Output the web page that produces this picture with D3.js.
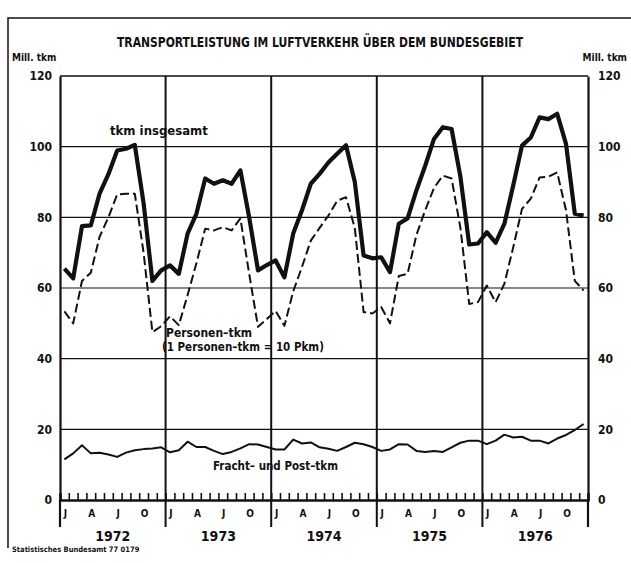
<!DOCTYPE html>
<html>
<head>
<meta charset="utf-8">
<script src="https://cdn.jsdelivr.net/npm/d3@7"></script>
<style>
  body { margin: 0; background: #fff; }
  svg text { font-family: "Liberation Sans Narrow", "DejaVu Sans Condensed", sans-serif; font-weight: bold; fill: #111; }
</style>
</head>
<body>
<div id="chart"></div>
<script>
const years = ['1972', '1973', '1974', '1975', '1976'];
const monthLabels = ['J', '', '', 'A', '', '', 'J', '', '', 'O', '', ''];
const yTicks = [0, 20, 40, 60, 80, 100, 120];

// Mill. tkm, monthly Jan 1972 .. Dec 1976
const tkmTotal = [
  65.5, 62.7, 77.5, 77.7, 86.7, 92.2, 98.9, 99.4, 100.5, 84, 62, 65,
  66.4, 64, 75.4, 81, 91, 89.5, 90.5, 89.5, 93.3, 80, 65, 66.5,
  67.8, 63, 75.4, 82, 89.5, 92.3, 95.5, 98, 100.4, 90, 69.2, 68.4,
  68.7, 64.5, 78.2, 79.7, 87.6, 94.6, 102.2, 105.5, 105, 91.5, 72.3, 72.6,
  75.8, 72.8, 78.2, 89, 100.3, 102.6, 108.3, 107.8, 109.3, 100.8, 81, 80.5
];
const personenTkm = [
  53.4, 50, 62, 64.3, 74.5, 80, 86.5, 86.7, 86.7, 70, 47.5, 49.2,
  52, 49.5, 58, 67, 76.8, 76.3, 77.2, 76.3, 79.7, 64, 49, 51.2,
  53.5, 49.3, 59, 66, 73.4, 77, 80.5, 84.7, 85.7, 77, 53.2, 52.8,
  54.6, 50, 63.4, 64, 75, 82, 88.3, 91.8, 91, 77, 55.5, 56,
  60.7, 56, 61.2, 71.5, 82.4, 85.3, 91.3, 91.5, 92.7, 82, 62, 59.3
];
const frachtTkm = [
  11.5, 13.2, 15.5, 13.2, 13.4, 12.9, 12.2, 13.4, 14.1, 14.4, 14.6, 14.9,
  13.5, 14.1, 16.5, 15, 15, 13.9, 13, 13.6, 14.6, 15.8, 15.7, 15,
  14.3, 14.3, 17.1, 16, 16.3, 14.9, 14.5, 13.9, 15, 16.2, 15.8, 15,
  13.9, 14.3, 15.8, 15.7, 13.9, 13.6, 13.9, 13.6, 14.9, 16.2, 16.8, 16.8,
  15.8, 16.8, 18.5, 17.7, 17.9, 16.8, 16.8, 16, 17.4, 18.4, 19.8, 21.5
];

const w = 631;
const h = 563;
const padL = 60, padR = 588, padT = 76, padB = 500;

const svg = d3.select('#chart').append('svg').attr('width', w).attr('height', h);

const x = d3.scaleLinear().domain([0, years.length * 12]).range([padL, padR]);
const y = d3.scaleLinear().domain([0, 120]).range([padB, padT]);

// page frame
svg.append('path').attr('d', 'M8,548 V18 H631').attr('fill', 'none').attr('stroke', '#111').attr('stroke-width', 1.5);

svg.append('text').attr('x', 117).attr('y', 47).attr('font-size', 14)
  .attr('textLength', 406).attr('lengthAdjust', 'spacingAndGlyphs')
  .text('TRANSPORTLEISTUNG IM LUFTVERKEHR ÜBER DEM BUNDESGEBIET');
svg.append('text').attr('x', 12).attr('y', 61).attr('font-size', 10).text('Mill. tkm');
svg.append('text').attr('x', 627).attr('y', 61).attr('text-anchor', 'end').attr('font-size', 10).text('Mill. tkm');

// horizontal grid
svg.append('g').selectAll('line').data(yTicks.slice(1, -1)).enter().append('line')
  .attr('x1', padL).attr('x2', padR).attr('y1', d => y(d)).attr('y2', d => y(d))
  .attr('stroke', '#111').attr('stroke-width', 1.2);
svg.append('line').attr('x1', padL).attr('x2', padR).attr('y1', padT).attr('y2', padT)
  .attr('stroke', '#111').attr('stroke-width', 1.5);

// y axes
const yLeft = d3.axisLeft(y).tickValues(yTicks).tickSize(0).tickPadding(8);
const yRight = d3.axisRight(y).tickValues(yTicks).tickSize(0).tickPadding(10);
const gl = svg.append('g').attr('transform', 'translate(' + padL + ',0)').call(yLeft);
const gr = svg.append('g').attr('transform', 'translate(' + padR + ',0)').call(yRight);
[gl, gr].forEach(g => {
  g.select('.domain').attr('stroke', '#111').attr('stroke-width', 2.2);
  g.selectAll('text').attr('font-size', 12).style('font-family', '"Liberation Sans Narrow", "DejaVu Sans Condensed", sans-serif').style('font-weight', 'bold');
});

// year separators
svg.append('g').selectAll('line').data(d3.range(1, years.length)).enter().append('line')
  .attr('x1', d => x(d * 12)).attr('x2', d => x(d * 12)).attr('y1', padT).attr('y2', 527)
  .attr('stroke', '#111').attr('stroke-width', 2);
svg.append('line').attr('x1', padL).attr('x2', padL).attr('y1', padB).attr('y2', 527).attr('stroke', '#111').attr('stroke-width', 2.2);
svg.append('line').attr('x1', padR).attr('x2', padR).attr('y1', padB).attr('y2', 527).attr('stroke', '#111').attr('stroke-width', 2.2);

// x axis with month ticks
const xAxis = d3.axisBottom(x).tickValues(d3.range(0, years.length * 12 + 1)).tickSize(-7).tickFormat('');
const gx = svg.append('g').attr('transform', 'translate(0,' + padB + ')').call(xAxis);
gx.select('.domain').attr('stroke', '#111').attr('stroke-width', 2.4);
gx.selectAll('.tick line').attr('stroke', '#111').attr('stroke-width', 1.6);

const months = d3.range(0, years.length * 12);
svg.append('g').selectAll('text').data(months.filter(i => monthLabels[i % 12])).enter().append('text')
  .attr('x', i => x(i + 0.5) + 1).attr('y', 517).attr('text-anchor', 'middle').attr('font-size', 10)
  .text(i => monthLabels[i % 12]);
svg.append('g').selectAll('text').data(years).enter().append('text')
  .attr('x', (d, i) => x(i * 12 + 6)).attr('y', 541).attr('text-anchor', 'middle').attr('font-size', 14)
  .text(d => d);

// series
const line = d3.line().x((d, i) => x(i + 0.5)).y(d => y(d)).curve(d3.curveLinear);
svg.append('path').datum(frachtTkm).attr('d', line).attr('fill', 'none').attr('stroke', '#111')
  .attr('stroke-width', 2).attr('stroke-linejoin', 'round');
svg.append('path').datum(personenTkm).attr('d', line).attr('fill', 'none').attr('stroke', '#111')
  .attr('stroke-width', 2).attr('stroke-dasharray', '9,4').attr('stroke-linejoin', 'round');
svg.append('path').datum(tkmTotal).attr('d', line).attr('fill', 'none').attr('stroke', '#111')
  .attr('stroke-width', 4.2).attr('stroke-linejoin', 'round');

// series labels
svg.append('text').attr('x', 110).attr('y', 135).attr('font-size', 13).text('tkm insgesamt');
svg.append('text').attr('x', 166).attr('y', 337).attr('font-size', 12).text('Personen–tkm');
svg.append('text').attr('x', 162).attr('y', 351).attr('font-size', 11.5).text('(1 Personen–tkm = 10 Pkm)');
svg.append('text').attr('x', 213).attr('y', 470).attr('font-size', 11.5).text('Fracht– und Post–tkm');

svg.append('text').attr('x', 12).attr('y', 552).attr('font-size', 7.5).text('Statistisches Bundesamt 77 0179');
</script>
</body>
</html>
